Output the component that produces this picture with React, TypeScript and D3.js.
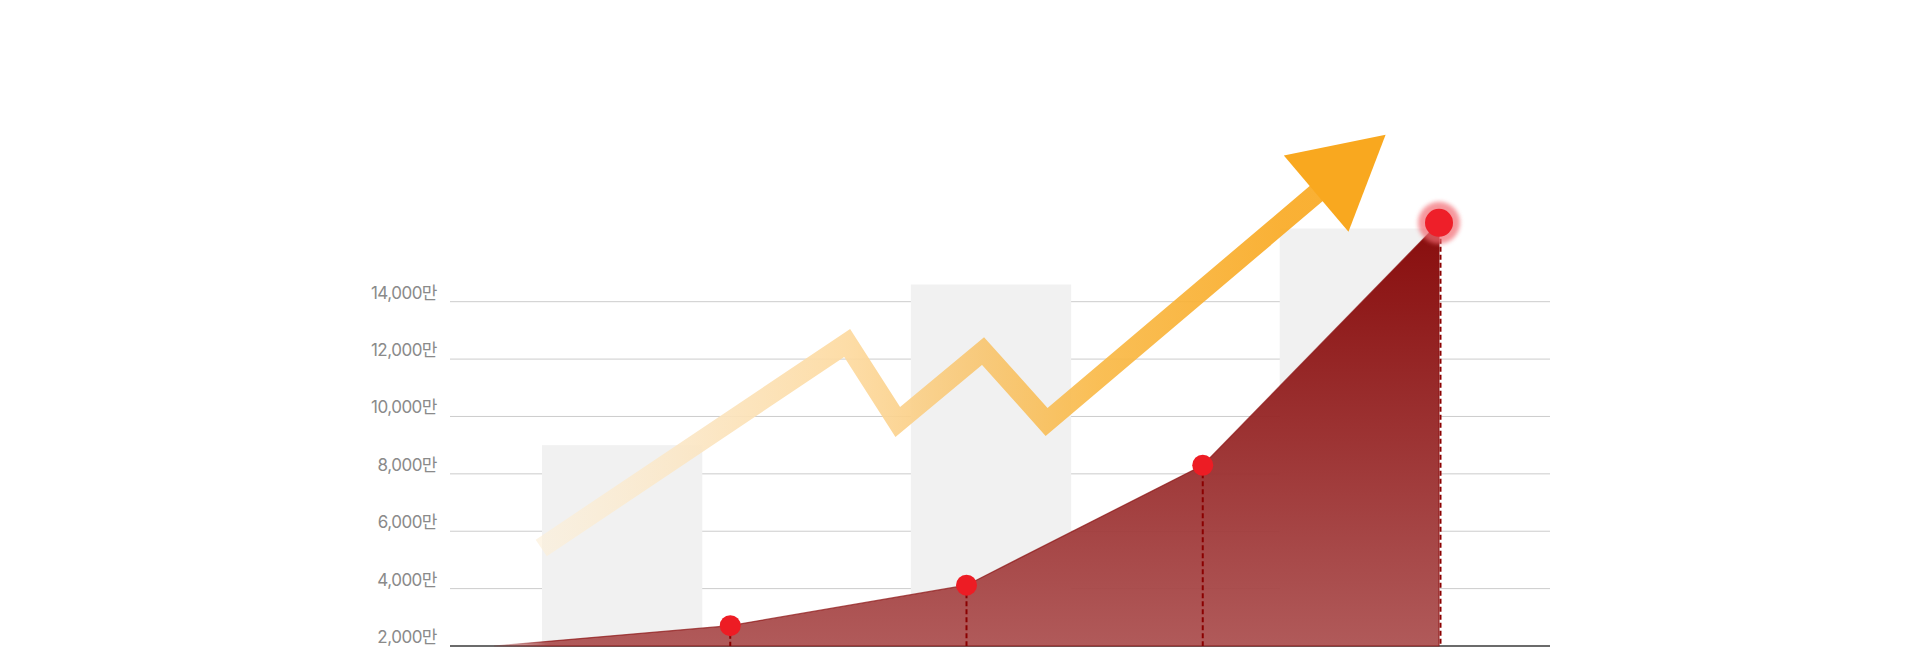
import React from "react";
import * as d3 from "d3";

// ---- data ----
const tickValues = [2000, 4000, 6000, 8000, 10000, 12000, 14000];
const tickLabels = ["2,000만", "4,000만", "6,000만", "8,000만", "10,000만", "12,000만", "14,000만"];

const barCategories = ["A", "B", "C"];
const barValues = [9000, 14600, 16550];

const areaIndex = [0, 1, 2, 3, 4];
const areaValues = [2000, 2710, 4120, 8300, 16750];

const arrowIndex = [0.2, 1.495, 1.709, 2.07, 2.339, 3.48];
const arrowValues = [5416, 12561, 9808, 12282, 9808, 17765];

const W = 1920;
const H = 656;

export default function App() {
  const y = d3.scaleLinear().domain([2000, 14000]).range([646, 301.7]);
  const x = d3.scaleLinear().domain([0, 4]).range([494, 1439]);
  const xb = d3
    .scaleBand<string>()
    .domain(barCategories)
    .range([542, 1440])
    .paddingInner(0.5655)
    .paddingOuter(0);

  const gridX0 = 450;
  const gridX1 = 1550;

  const areaData = areaIndex.map((d, i) => [x(d), y(areaValues[i])] as [number, number]);
  const areaGen = d3
    .area<[number, number]>()
    .x((d) => d[0])
    .y0(y(2000))
    .y1((d) => d[1]);
  const areaPath = areaGen(areaData) || "";

  const arrowPts = arrowIndex.map((d, i) => [x(d), y(arrowValues[i])] as [number, number]);
  const n = arrowPts.length;
  const [ax, ay] = arrowPts[n - 1];
  const [px, py] = arrowPts[n - 2];
  const len = Math.hypot(ax - px, ay - py);
  const ux = (ax - px) / len;
  const uy = (ay - py) / len;
  const headLen = 91;
  const headHalf = 50;
  const head = [
    [ax + ux * headLen, ay + uy * headLen],
    [ax - uy * headHalf, ay + ux * headHalf],
    [ax + uy * headHalf, ay - ux * headHalf],
  ];
  const lineFull = d3.line()([...arrowPts.slice(0, n - 1), [ax + ux * 10, ay + uy * 10]]) || "";

  const last = areaData[areaData.length - 1];

  return (
    <svg
      width={W}
      height={H}
      style={{ position: "absolute", left: 0, top: 0, background: "#fff" }}
      fontFamily="Inter, 'Noto Sans CJK KR', sans-serif"
    >
      <defs>
        <linearGradient id="areaGrad" gradientUnits="userSpaceOnUse" x1="0" y1={last[1]} x2="0" y2={y(2000)}>
          <stop offset="0" stopColor="#820000" />
          <stop offset="0.2" stopColor="#8a0f0f" />
          <stop offset="1" stopColor="#ac5151" />
        </linearGradient>
        <linearGradient id="areaFade" gradientUnits="userSpaceOnUse" x1={x(0)} y1="0" x2={x(0) + 55} y2="0">
          <stop offset="0" stopColor="#fff" stopOpacity="0.25" />
          <stop offset="1" stopColor="#fff" stopOpacity="1" />
        </linearGradient>
        <mask id="areaMask" maskUnits="userSpaceOnUse" x="0" y="0" width={W} height={H}>
          <rect x="0" y="0" width={W} height={H} fill="url(#areaFade)" />
        </mask>
        <linearGradient
          id="lineGrad"
          gradientUnits="userSpaceOnUse"
          x1={arrowPts[0][0]}
          y1="0"
          x2={head[0][0]}
          y2="0"
        >
          <stop offset="0" stopColor="#fcefd8" stopOpacity="0.7" />
          <stop offset="0.18" stopColor="#fbe6c4" />
          <stop offset="0.36" stopColor="#fddaa0" />
          <stop offset="0.52" stopColor="#f8c671" />
          <stop offset="0.66" stopColor="#f9b947" />
          <stop offset="0.88" stopColor="#f9aa24" />
          <stop offset="1" stopColor="#f9a81f" />
        </linearGradient>
        <filter id="glow" x="-50%" y="-50%" width="200%" height="200%">
          <feGaussianBlur stdDeviation="2.2" />
        </filter>
      </defs>

      {/* grid lines */}
      {tickValues.slice(1).map((t) => (
        <line key={t} x1={gridX0} x2={gridX1} y1={y(t)} y2={y(t)} stroke="#cccccc" strokeWidth={1} />
      ))}

      {/* bars */}
      {barCategories.map((c, i) => (
        <rect
          key={c}
          x={xb(c)}
          y={y(barValues[i])}
          width={xb.bandwidth()}
          height={y(2000) - y(barValues[i])}
          fill="#f1f1f1"
        />
      ))}

      {/* baseline */}
      <line x1={gridX0} x2={gridX1} y1={y(2000)} y2={y(2000)} stroke="#3a3a3a" strokeWidth={1.5} />

      {/* arrow */}
      <path
        d={lineFull}
        fill="none"
        stroke="url(#lineGrad)"
        strokeWidth={20}
        strokeLinejoin="miter"
        strokeMiterlimit={10}
        strokeLinecap="butt"
        opacity={0.92}
      />
      <path d={d3.line()(head as [number, number][]) + "Z"} fill="#f9a81f" />

      {/* area */}
      <g mask="url(#areaMask)">
        <path d={areaPath} fill="url(#areaGrad)" fillOpacity={0.95} stroke="#8a1010" strokeWidth={1.2} strokeOpacity={0.7} />
      </g>

      {/* dashed drop lines */}
      {areaData.slice(1).map((d, i) => (
        <line
          key={i}
          x1={d[0] + (i === areaData.length - 2 ? 1.5 : 0)}
          x2={d[0] + (i === areaData.length - 2 ? 1.5 : 0)}
          y1={d[1]}
          y2={y(2000)}
          stroke="#8b0000"
          strokeWidth={2}
          strokeDasharray="5,3"
        />
      ))}

      {/* points */}
      {areaData.slice(1, areaData.length - 1).map((d, i) => (
        <circle key={i} cx={d[0]} cy={d[1]} r={10.5} fill="#ed1c24" />
      ))}
      <circle cx={last[0]} cy={last[1]} r={21} fill="#f26a72" opacity={0.7} filter="url(#glow)" />
      <circle cx={last[0]} cy={last[1]} r={14} fill="#ee1f29" />

      {/* y labels */}
      {tickValues.map((t, i) => (
        <text
          key={t}
          x={437}
          y={y(t) - 3}
          textAnchor="end"
          fontSize={17}
          fill="#8a8a8a"
          letterSpacing={-0.5}
        >
          {tickLabels[i]}
        </text>
      ))}
    </svg>
  );
}
